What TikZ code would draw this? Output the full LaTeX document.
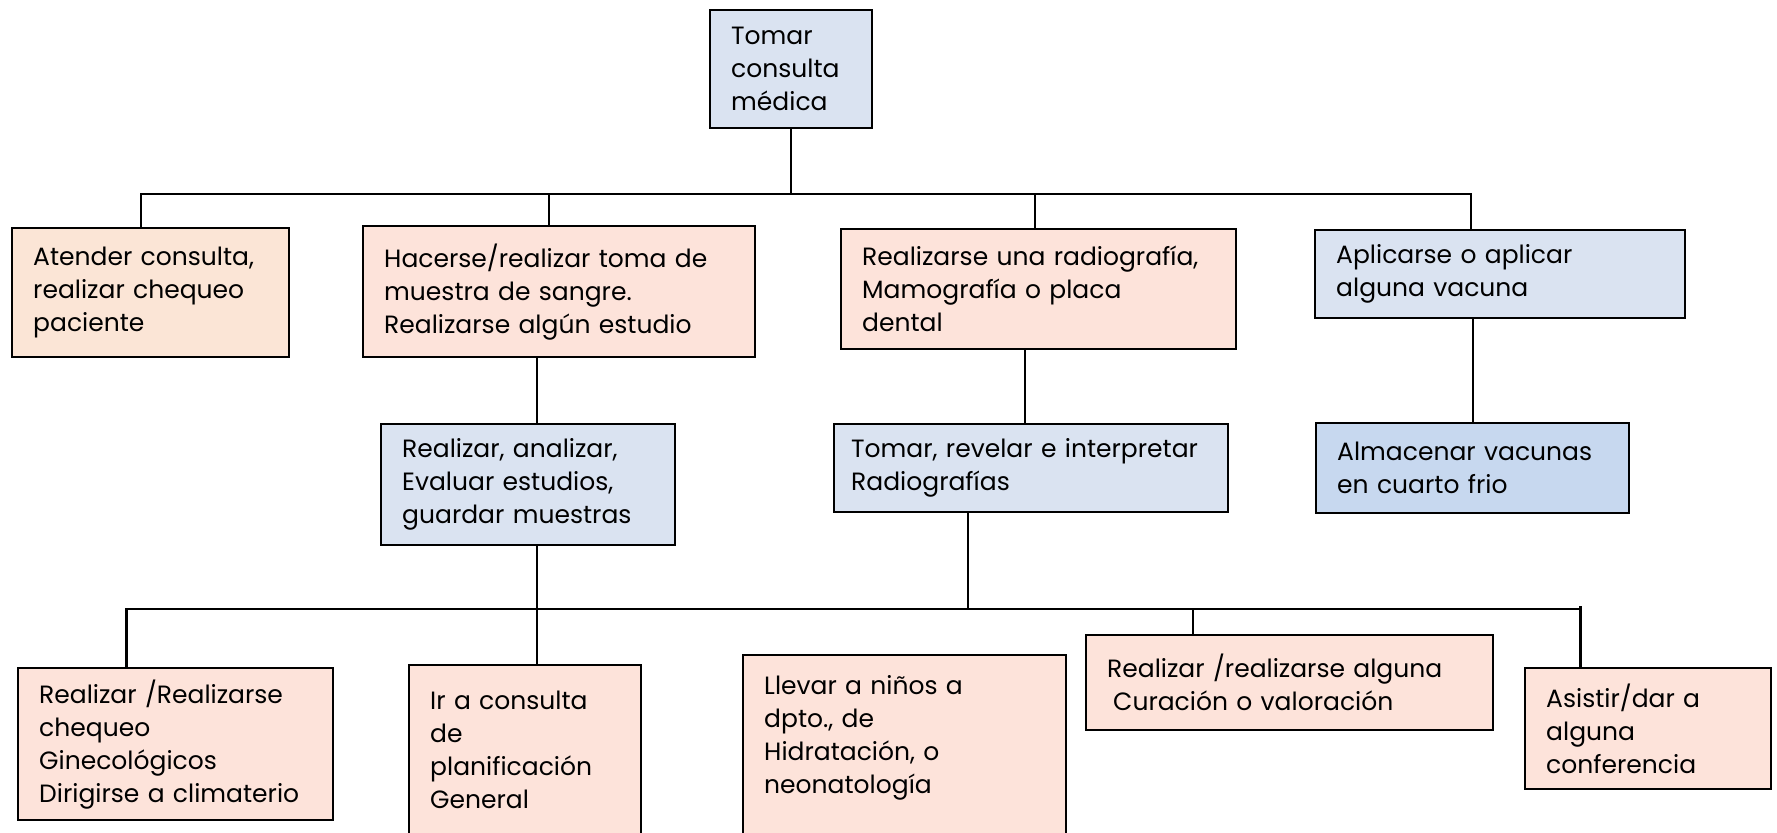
\documentclass[tikz,border=0pt]{standalone}
\usepackage{fontspec}
\setmainfont{Poppins}
\usepackage{tikz}

\definecolor{peachA}{HTML}{FBE5D6}
\definecolor{peachB}{HTML}{FDE3DA}
\definecolor{blueA}{HTML}{DAE3F1}
\definecolor{blueB}{HTML}{C7D8EF}

\begin{document}
\begin{tikzpicture}[
		x=0.5pt, y=-0.5pt,
		every node/.style={rectangle, draw, line width=1.2pt, anchor=north west, align=left,
			inner xsep=10.5pt, font=\fontsize{12.5}{16.5}\selectfont},
		peach/.style={fill=peachB},
		blue/.style={fill=blueA},
		link/.style={line width=0.9pt},
		bus/.style={line width=1.3pt}
	]
  \useasboundingbox (0, 0) rectangle (1777, 833);
  \clip (0, 0) rectangle (1777, 833);
  \node (tomar) [blue, minimum width=81pt, minimum height=59pt, text width=60pt] at (709, 9) {Tomar\\consulta\\médica};
  \node (atender) [fill=peachA, minimum width=138.5pt, minimum height=64.5pt, text width=117.5pt] at (11, 227) {Atender consulta,\\realizar chequeo\\paciente};
  \node (hacerse) [peach, minimum width=196pt, minimum height=65.5pt, text width=175pt] at (362, 225) {Hacerse/realizar toma de\\muestra de sangre.\\Realizarse algún estudio};
  \node (radiografia) [peach, minimum width=197.5pt, minimum height=60pt, text width=176.5pt] at (840, 228) {Realizarse una radiografía,\\Mamografía o placa\\dental};
  \node (aplicarse) [blue, minimum width=185pt, minimum height=44pt, text width=164pt] at (1314, 229) {Aplicarse o aplicar\\alguna vacuna};
  \node (analizar) [blue, minimum width=147pt, minimum height=60.5pt, text width=126pt] at (380, 423) {Realizar, analizar,\\Evaluar estudios,\\guardar muestras};
  \node (revelar) [blue, minimum width=197pt, minimum height=44pt, text width=180pt, inner xsep=8.5pt] at (833, 423) {Tomar, revelar e interpretar\\Radiografías};
  \node (almacenar) [fill=blueB, minimum width=156.5pt, minimum height=45pt, text width=135.5pt] at (1315, 422) {Almacenar vacunas\\en cuarto frio};
  \node (chequeo) [peach, minimum width=157.5pt, minimum height=76pt, text width=136.5pt] at (17, 667) {Realizar /Realizarse\\chequeo\\Ginecológicos\\Dirigirse a climaterio};
  \node (irconsulta) [peach, minimum width=116pt, minimum height=85pt, text width=95pt] at (408, 664) {Ir a consulta\\de\\planificación\\General};
  \node (llevar) [peach, text width=140.5pt, text height=9pt, text depth=110pt, inner ysep=10.5pt] at (742, 654) {Llevar a niños a\\dpto., de\\Hidratación, o\\neonatología};
  \node (curacion) [peach, minimum width=203.5pt, minimum height=47.5pt, text width=182.5pt] at (1085, 634) {Realizar /realizarse alguna\\\hspace*{3pt}Curación o valoración};
  \node (asistir) [peach, minimum width=123pt, minimum height=60.5pt, text width=102pt] at (1524, 667) {Asistir/dar a\\alguna\\conferencia};
  \coordinate (bus top) at (0, 194);
  \coordinate (bus low) at (0, 609);
  \draw [link] (tomar.south) -- (tomar.south |- bus top);
  \draw [link] ([xshift=-5pt]atender.north) |- ([xshift=-14.5pt]aplicarse.north |- bus top) -- ([xshift=-14.5pt]aplicarse.north);
  \draw [link] ([xshift=-5pt]hacerse.north) -- ([xshift=-5pt]hacerse.north |- bus top);
  \draw [link] ([xshift=-2pt]radiografia.north) -- ([xshift=-2pt]radiografia.north |- bus top);
  \draw [link] ([xshift=4.5pt]analizar.north) -- ([xshift=4.5pt]analizar.north |- hacerse.south);
  \draw [link] ([xshift=-3pt]revelar.north) -- ([xshift=-3pt]revelar.north |- radiografia.south);
  \draw [link] (almacenar.north) -- (almacenar.north |- aplicarse.south);
  \draw [link] ([xshift=4.5pt]analizar.south) -- ([xshift=4.5pt]analizar.south |- irconsulta.north);
  \draw [link] ([xshift=-31.5pt]revelar.south) -- ([xshift=-31.5pt]revelar.south |- bus low);
  \draw [bus] ([xshift=-24.75pt]chequeo.north) |- ([xshift=-34pt]asistir.north |- bus low);
  \draw [bus] ([xshift=-34pt]asistir.north) -- ([xshift=-34pt, yshift=1.5pt]asistir.north |- bus low);
  \draw [link] ([xshift=-48.25pt]curacion.north) -- ([xshift=-48.25pt]curacion.north |- bus low);
\end{tikzpicture}
\end{document}
